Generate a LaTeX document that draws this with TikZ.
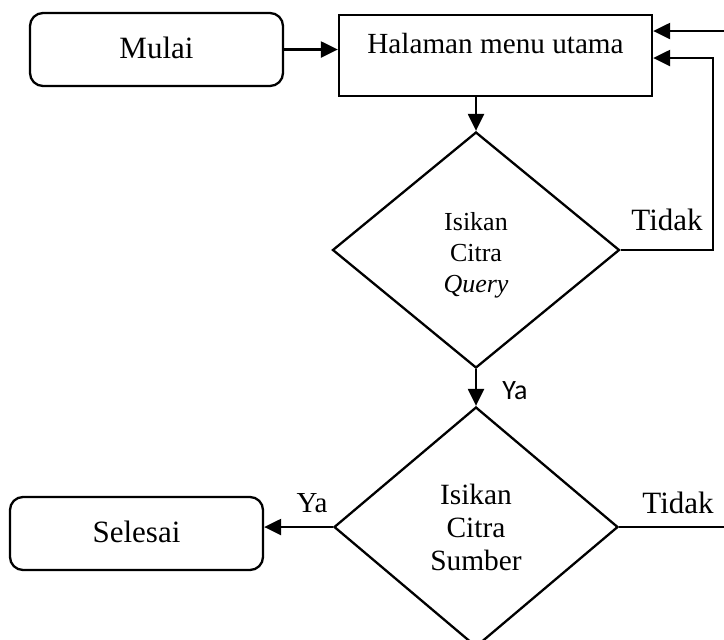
\documentclass[tikz,border=0pt]{standalone}
\usepackage{fontspec}
\setmainfont{Liberation Serif}
\newfontfamily\labelsans{Carlito}
\usetikzlibrary{shapes.geometric,arrows.meta}
\begin{document}
\begin{tikzpicture}[x=0.5pt,y=-0.5pt,
  line/.style={line width=1.15pt},
  flow/.style={line, -{Triangle[length=8.5pt,width=8pt]}},
  terminal/.style={draw, line width=1.15pt, rounded corners=6.5pt,
    minimum width=126.5pt, minimum height=36.5pt, inner sep=0pt,
    text height=10pt, text depth=1.5pt, font=\fontsize{15.5}{18}\selectfont},
  process/.style={draw, line width=1.15pt, minimum width=156.5pt,
    minimum height=40.5pt, inner sep=0pt, text height=10pt, text depth=12.5pt,
    font=\fontsize{14.6}{17}\selectfont},
  decision/.style={draw, diamond, line width=1.15pt, inner sep=0pt, align=center},
  lbl/.style={inner sep=0pt, anchor=base, font=\fontsize{15.5}{18}\selectfont}
]
\useasboundingbox (0,0) rectangle (724,639);

% nodes
\node[terminal] (mulai) at (156.5,49.5) {Mulai};
\node[process] (menu) at (495.5,55.5) {Halaman menu utama};
\node[decision, minimum width=143.5pt, minimum height=118pt,
  font=\fontsize{13}{15.5}\selectfont] (d1) at (476,250)
  {\rule{0pt}{14pt}Isikan\\Citra\\\textit{Query}};
\node[decision, minimum width=142pt, minimum height=120pt,
  font=\fontsize{14.7}{16.5}\selectfont] (d2) at (476,527)
  {Isikan\\Citra\\Sumber};
\node[terminal] (selesai) at (136.5,533.5) {Selesai};

% free ends of the return lines
\coordinate (c1) at (713,58);
\coordinate (c2) at (724,31);
\coordinate (c3) at (724,527);

% connectors
\draw[flow] (mulai.east) -- (mulai.east -| menu.west);
\draw[flow] (menu.south -| d1.north) -- (d1.north);
\draw[flow] (d1.south) -- (d2.north);
\draw[flow] (d1.east) -- (d1.east -| c1) -- (c1) -- (c1 -| menu.east);
\draw[flow] (c2) -- (c2 -| menu.east);
\draw[flow] (d2.west) -- (d2.west -| selesai.east);
\draw[line] (d2.east) -- (c3);

% branch labels
\node[lbl] (t1) at (667,230) {Tidak};
\node[lbl, font=\labelsans\fontsize{14}{16}\selectfont] (y1) at (515,399) {Ya};
\node[lbl, font=\fontsize{14.5}{17}\selectfont] (y2) at (312,512) {Ya};
\node[lbl] (t2) at (678,513) {Tidak};
\end{tikzpicture}
\end{document}
